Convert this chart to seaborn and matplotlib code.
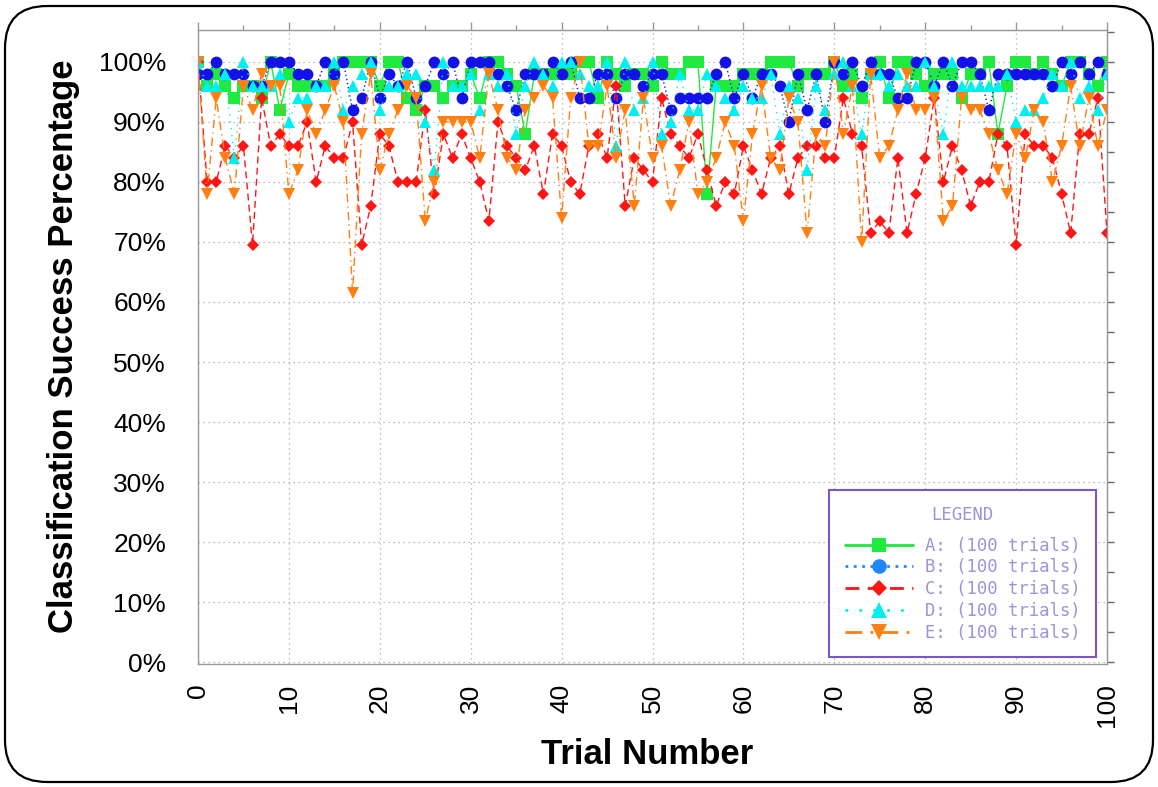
import matplotlib
matplotlib.use("Agg")
import matplotlib.pyplot as plt
import seaborn as sns
from matplotlib.lines import Line2D
from matplotlib.patches import FancyBboxPatch
from matplotlib.ticker import MultipleLocator, FuncFormatter
from matplotlib.font_manager import FontProperties

# ---- data: success percentage per trial for each classifier run ----
trials = list(range(101))

acc_a = [100, 96, 98, 96, 94, 96, 96, 94, 100, 92,
         98, 96, 96, 96, 96, 98, 100, 100, 100, 100,
         96, 100, 100, 94, 92, 96, 96, 94, 96, 96,
         98, 94, 100, 100, 98, 96, 88, 98, 98, 98,
         98, 98, 100, 100, 94, 100, 98, 96, 98, 98,
         96, 100, 98, 98, 100, 100, 78, 96, 96, 96,
         98, 98, 98, 100, 100, 100, 96, 98, 98, 98,
         100, 96, 98, 94, 98, 100, 94, 100, 100, 98,
         96, 98, 98, 98, 94, 98, 98, 100, 88, 96,
         100, 100, 98, 100, 98, 96, 100, 100, 98, 96,
         100]

acc_b = [98, 98, 100, 98, 98, 98, 96, 96, 100, 100,
         100, 98, 98, 96, 100, 98, 100, 92, 94, 100,
         94, 98, 96, 100, 94, 96, 100, 98, 100, 94,
         100, 100, 100, 98, 96, 92, 98, 98, 98, 100,
         98, 100, 94, 94, 98, 98, 94, 98, 98, 96,
         98, 98, 92, 94, 94, 94, 94, 98, 100, 94,
         98, 94, 98, 98, 96, 90, 98, 92, 98, 90,
         100, 98, 100, 96, 100, 98, 98, 94, 94, 100,
         100, 96, 100, 96, 100, 100, 98, 92, 98, 98,
         98, 98, 98, 98, 96, 100, 98, 100, 98, 100,
         98]

acc_c = [100, 80, 80, 86, 84, 86, 69.5, 94, 86, 88,
         86, 86, 90, 80, 86, 84, 84, 90, 69.5, 76,
         88, 86, 80, 80, 80, 92, 78, 88, 84, 88,
         84, 80, 73.5, 90, 86, 84, 82, 86, 78, 88,
         86, 80, 78, 86, 88, 84, 96, 76, 84, 82,
         80, 94, 88, 86, 84, 88, 82, 76, 80, 78,
         86, 82, 78, 84, 86, 78, 84, 86, 86, 84,
         84, 94, 88, 86, 71.5, 73.5, 71.5, 84, 71.5, 78,
         84, 94, 80, 86, 82, 76, 80, 80, 88, 86,
         69.5, 88, 86, 86, 84, 78, 71.5, 88, 88, 94,
         71.5]

acc_d = [100, 96, 96, 98, 84, 100, 96, 96, 96, 98,
         90, 94, 94, 96, 96, 100, 92, 96, 98, 100,
         92, 96, 96, 98, 98, 90, 82, 100, 96, 96,
         98, 92, 98, 96, 98, 88, 96, 100, 98, 96,
         100, 100, 98, 96, 96, 100, 86, 100, 92, 94,
         100, 88, 90, 98, 92, 92, 98, 96, 94, 92,
         96, 94, 94, 98, 88, 96, 94, 82, 96, 92,
         98, 100, 96, 88, 98, 98, 96, 98, 96, 96,
         100, 96, 88, 100, 96, 96, 96, 96, 96, 98,
         90, 92, 92, 94, 98, 96, 100, 94, 96, 92,
         98]

acc_e = [100, 78, 94, 84, 78, 96, 92, 98, 96, 96,
         78, 82, 92, 88, 92, 96, 90, 61.5, 88, 98,
         82, 88, 92, 96, 94, 73.5, 80, 90, 90, 90,
         90, 84, 98, 92, 84, 82, 92, 94, 96, 94,
         74, 94, 100, 86, 86, 96, 84, 92, 76, 94,
         84, 86, 76, 82, 90, 78, 80, 84, 90, 86,
         73.5, 88, 96, 84, 82, 94, 90, 71.5, 88, 86,
         100, 88, 96, 70, 98, 84, 86, 92, 98, 92,
         92, 94, 73.5, 76, 94, 92, 92, 88, 82, 78,
         88, 84, 92, 90, 80, 86, 96, 86, 94, 86,
         92]

labels = ["A: (100 trials)", "B: (100 trials)", "C: (100 trials)",
          "D: (100 trials)", "E: (100 trials)"]

# ---- styling of each run ----
styles = [
    dict(color="#1fea3e", marker="s", ls="-", ms=8.0, leg="#1fea3e"),
    dict(color="#1212e8", marker="o", ls=(0, (1, 2)), ms=8.5, leg="#1e86ff"),
    dict(color="#ff1515", marker="D", ls=(0, (5, 3)), ms=6.5, leg="#ff1515"),
    dict(color="#00f0f0", marker="^", ls=(0, (1, 4)), ms=9.0, leg="#00f0f0"),
    dict(color="#ff7f10", marker="v", ls=(0, (6, 3, 1, 3)), ms=9.0, leg="#ff7f10"),
]
series = [acc_a, acc_b, acc_c, acc_d, acc_e]

sns.set_style("white")
plt.rcParams["font.family"] = ["Liberation Sans", "DejaVu Sans"]
plt.rcParams["text.color"] = "black"
plt.rcParams["axes.labelcolor"] = "black"
plt.rcParams["xtick.color"] = "black"
plt.rcParams["ytick.color"] = "black"

W, H = 1158, 787
fig = plt.figure(figsize=(W / 100, H / 100), dpi=100)
ax = fig.add_axes([198 / W, 1 - 664 / H, 909 / W, 634 / H])

for vals, st in zip(series, styles):
    sns.lineplot(x=trials, y=vals, ax=ax, color=st["color"], marker=st["marker"],
                 linestyle=st["ls"], linewidth=1.0, markersize=st["ms"],
                 markeredgewidth=0, legend=False)

ax.set_xlim(0, 100)
ax.set_ylim(-0.33, 105.33)
ax.xaxis.set_major_locator(MultipleLocator(10))
ax.xaxis.set_minor_locator(MultipleLocator(5))
ax.yaxis.set_major_locator(MultipleLocator(10))
ax.yaxis.set_minor_locator(MultipleLocator(5))
ax.yaxis.set_major_formatter(FuncFormatter(lambda v, p: f"{v:.0f}%"))

ax.grid(True, which="major", color="#a8a8a8", linestyle=(0, (1, 3)), linewidth=0.9)
ax.set_axisbelow(True)

for s in ax.spines.values():
    s.set_color("#9a9a9a")
    s.set_linewidth(1.0)

ax.tick_params(axis="y", which="major", direction="out", length=11, width=2.6,
               color="black", labelcolor="black", labelsize=19, pad=12, right=False)
ax.tick_params(axis="y", which="minor", direction="out", length=4.5, width=1,
               color="#555555", right=False)
ax.tick_params(axis="x", which="major", direction="out", length=10, width=2.6,
               color="black", labelcolor="black", labelsize=19, pad=4,
               labelrotation=90, top=False)
ax.tick_params(axis="x", which="minor", direction="out", length=4.5, width=1,
               color="#888888", top=False)

# gray frame ticks on the top and right edges
sec_r = ax.secondary_yaxis("right")
sec_r.yaxis.set_major_locator(MultipleLocator(10))
sec_r.yaxis.set_minor_locator(MultipleLocator(5))
sec_r.tick_params(which="both", direction="out", length=5, width=1,
                  color="#666666", labelright=False)
sec_r.spines["right"].set_color("#9a9a9a")

sec_t = ax.secondary_xaxis("top")
sec_t.xaxis.set_major_locator(MultipleLocator(10))
sec_t.xaxis.set_minor_locator(MultipleLocator(5))
sec_t.tick_params(which="major", direction="out", length=6, width=1,
                  color="#999999", labeltop=False)
sec_t.tick_params(which="minor", direction="out", length=3.5, width=1,
                  color="#999999", labeltop=False)
sec_t.spines["top"].set_color("#9a9a9a")

ax.set_xlabel("Trial Number", fontsize=25, fontweight="bold", color="black")
ax.xaxis.set_label_coords(0.494, -0.1165)
ax.set_ylabel("Classification Success Percentage", fontsize=25, fontweight="bold",
              color="black")
ax.yaxis.set_label_coords(-0.1298, 0.502)

# legend box
handles = [Line2D([], [], color=st["leg"], marker=st["marker"], linestyle=st["ls"],
                  linewidth=2.0, markersize=st["ms"] + 2, markeredgewidth=0)
           for st in styles]
legfont = FontProperties(family="DejaVu Sans Mono", size=12.4)
leg = ax.legend(handles, labels, title="LEGEND", loc="upper left",
                bbox_to_anchor=(829 / W, 1 - 490 / H), bbox_transform=fig.transFigure,
                prop=legfont, title_fontproperties=legfont, frameon=True,
                fancybox=False, borderpad=0.9, handlelength=4.0, handletextpad=0.65,
                labelspacing=0.22, borderaxespad=0, labelcolor="#a092da")
# extra room between the title and the entries
if hasattr(leg, "_legend_box"):
    leg._legend_box.sep = 9.5
leg.get_title().set_color("#a092da")
leg.get_frame().set_edgecolor("#7a56c8")
leg.get_frame().set_linewidth(1.5)
leg.get_frame().set_facecolor("white")
leg.get_frame().set_alpha(1.0)

# rounded outer border of the figure
fig.patches.append(FancyBboxPatch((0.05, 0.05), 11.48, 7.76,
                                  boxstyle="round,pad=0,rounding_size=0.42",
                                  transform=fig.dpi_scale_trans, fill=False,
                                  edgecolor="black", linewidth=1.6))

fig.savefig("out.png", dpi=100)
